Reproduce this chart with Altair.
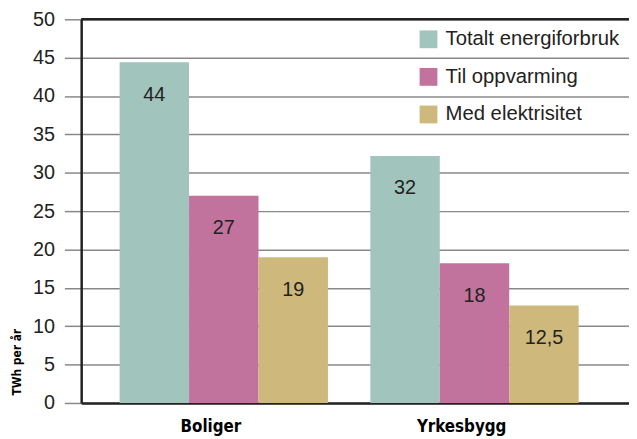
import altair as alt
import pandas as pd

categories = ["Boliger", "Yrkesbygg"]
series = ["Totalt energiforbruk", "Til oppvarming", "Med elektrisitet"]
colors = ["#A1C4BC", "#C1739D", "#CEB87C"]

totalt = [44.4, 32.2]
oppvarming = [27.0, 18.2]
elektrisitet = [19.0, 12.7]

totalt_labels = ["44", "32"]
oppvarming_labels = ["27", "18"]
elektrisitet_labels = ["19", "12,5"]

y_ticks = list(range(0, 51, 5))

rows = []
for s, vals, labs in zip(series, [totalt, oppvarming, elektrisitet],
                         [totalt_labels, oppvarming_labels, elektrisitet_labels]):
    for c, v, l in zip(categories, vals, labs):
        rows.append({"kategori": c, "serie": s, "verdi": v, "etikett": l})
df = pd.DataFrame(rows)

COND = "DejaVu Sans Condensed, Liberation Sans Narrow, Liberation Sans, sans-serif"

x_enc = alt.X(
    "kategori:N", sort=categories,
    scale=alt.Scale(paddingInner=0.169, paddingOuter=0.177, align=0.433),
    axis=alt.Axis(title=None, labelAngle=0, ticks=False, grid=False,
                  domainColor="#222222", domainWidth=2.5,
                  labelFont=COND, labelFontWeight="bold",
                  labelFontSize=17, labelColor="#000000", labelPadding=16,
                  labelOffset=-13),
)
xoff = alt.XOffset("serie:N", sort=series, scale=alt.Scale(paddingInner=0, paddingOuter=0))
y_axis = alt.Axis(values=y_ticks, title="TWh per år", labelOverlap=False,
                  domainColor="#222222", domainWidth=2.5,
                  tickColor="#888888", tickSize=17, tickWidth=1.5,
                  gridColor="#888888", gridWidth=1.5,
                  labelFont="Liberation Sans", labelFontSize=20, labelColor="#222222",
                  labelPadding=10,
                  titleFont=COND, titleFontWeight="bold",
                  titleFontSize=12, titleColor="#000000",
                  titleAngle=270, titleAlign="left", titleBaseline="middle",
                  titleX=-65, titleY=380)
y_enc = alt.Y("verdi:Q", scale=alt.Scale(domain=[0, 50], nice=False), axis=y_axis)

bars = alt.Chart(df).mark_bar().encode(
    x=x_enc,
    xOffset=xoff,
    y=y_enc,
    color=alt.Color("serie:N", sort=series,
                    scale=alt.Scale(domain=series, range=colors),
                    legend=alt.Legend(orient="none", legendX=341, legendY=10, title=None,
                                      symbolType="square", symbolSize=324,
                                      symbolStrokeWidth=0, symbolOpacity=1,
                                      labelFont="Liberation Sans", labelFontSize=20.5,
                                      labelColor="#222222", labelOffset=7,
                                      labelLimit=400,
                                      rowPadding=17, padding=0)),
)

text = alt.Chart(df).mark_text(dy=33, baseline="middle", fontSize=20,
                               font="Liberation Sans", color="#222222").encode(
    x=x_enc,
    xOffset=xoff,
    y=y_enc,
    text="etikett:N",
)

top_rule = alt.Chart(pd.DataFrame({"verdi": [50]})).mark_rule(
    color="#222222", strokeWidth=2.5).encode(y=y_enc)

chart = alt.layer(bars, text, top_rule).properties(
    width=554, height=388,
    autosize=alt.AutoSizeParams(type="none"),
    padding={"left": 74, "top": 9, "right": 0, "bottom": 32},
).configure_view(stroke=None)

chart.save("out.html", embed_options={"renderer": "svg", "actions": False})
